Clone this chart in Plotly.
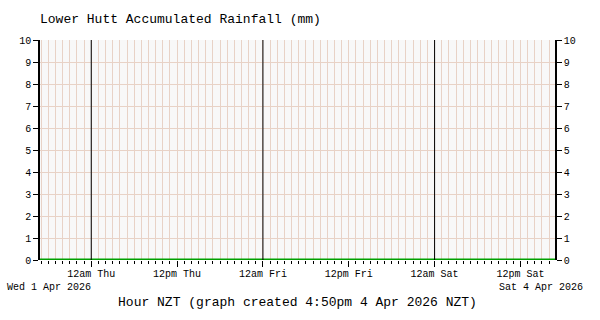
import plotly.graph_objects as go
import pandas as pd

# Data
title_text = "Lower Hutt Accumulated Rainfall (mm)"
x_title = "Hour NZT (graph created 4:50pm 4 Apr 2026 NZT)"
start_label = "Wed 1 Apr 2026"
end_label = "Sat 4 Apr 2026"
range_start = "2026-04-01 16:50"
range_end = "2026-04-04 16:50"
times = pd.date_range(range_start, range_end, freq="10min")
rain = [0.0] * len(times)
tick_times = pd.date_range("2026-04-02 00:00", "2026-04-04 12:00", freq="12h")
tick_labels = ["12am Thu", "12pm Thu", "12am Fri", "12pm Fri", "12am Sat", "12pm Sat"]
midnights = pd.date_range("2026-04-02", "2026-04-04", freq="D")
y_ticks = list(range(0, 11))

FONT = "Liberation Mono, Courier New, monospace"
GRID = "#e8d2c6"

fig = go.Figure()
fig.add_trace(go.Scatter(x=times, y=rain, mode="lines",
                         line=dict(color="#00a000", width=3),
                         showlegend=False, hoverinfo="skip"))
# invisible trace to activate the right y-axis
fig.add_trace(go.Scatter(x=times, y=rain, yaxis="y2", mode="lines",
                         line=dict(width=0), showlegend=False, hoverinfo="skip"))

for m in midnights:
    fig.add_shape(type="line", xref="x", yref="paper", x0=m, x1=m, y0=0, y1=1,
                  line=dict(color="black", width=1), layer="above")

fig.update_layout(
    width=600, height=320,
    margin=dict(l=40, r=45, t=40, b=60),
    paper_bgcolor="white", plot_bgcolor="#f8f8f8",
    font=dict(family=FONT, size=10, color="black"),
    title=dict(text=title_text, x=40/600, xanchor="left", y=1 - 18/320, yanchor="middle",
               font=dict(family=FONT, size=13, color="black")),
    xaxis=dict(
        type="date", range=[range_start, range_end], automargin=False,
        tickvals=tick_times, ticktext=tick_labels,
        ticks="outside", ticklen=6, tickcolor="black", tickwidth=1,
        ticklabelstandoff=-2,
        showgrid=True, gridcolor=GRID, gridwidth=1,
        minor=dict(dtick=3600000, tick0="2026-04-02", showgrid=True, gridcolor=GRID,
                   gridwidth=1, ticks="outside", ticklen=3, tickcolor="black"),
        showline=False, zeroline=False,
        tickfont=dict(family=FONT, size=10),
        title=dict(text=x_title, font=dict(family=FONT, size=13), standoff=17),
    ),
    yaxis=dict(
        range=[0, 10], tickvals=y_ticks, ticks="outside", ticklen=5, tickcolor="black",
        showgrid=True, gridcolor=GRID, gridwidth=1, automargin=False,
        showline=True, linecolor="black", linewidth=1.5, zeroline=False,
        tickfont=dict(family=FONT, size=10), fixedrange=True,
    ),
    yaxis2=dict(
        range=[0, 10], tickvals=y_ticks, ticks="outside", ticklen=5, tickcolor="black",
        overlaying="y", side="right", showgrid=False, automargin=False,
        showline=True, linecolor="black", linewidth=1.5, zeroline=False,
        tickfont=dict(family=FONT, size=10),
    ),
)

fig.add_annotation(text=start_label, xref="paper", yref="paper", x=-35/515, y=-27/220,
                   xanchor="left", yanchor="middle", showarrow=False,
                   font=dict(family=FONT, size=10))
fig.add_annotation(text=end_label, xref="paper", yref="paper", x=1 + 30/515, y=-27/220,
                   xanchor="right", yanchor="middle", showarrow=False,
                   font=dict(family=FONT, size=10))

fig.write_html("out.html")
